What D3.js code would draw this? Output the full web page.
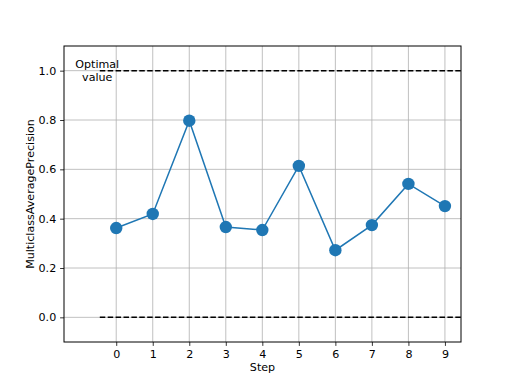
<!DOCTYPE html>
<html><head><meta charset="utf-8">
<script src="https://cdn.jsdelivr.net/npm/d3@7"></script>
<style>body{margin:0;background:#fff}svg{display:block}text{font-family:"DejaVu Sans",sans-serif}</style>
</head><body><svg id="c" width="512" height="384"></svg>
<script>
const steps = [0,1,2,3,4,5,6,7,8,9];
const values = [0.362,0.419,0.797,0.366,0.354,0.614,0.272,0.374,0.541,0.451];
const yTicks = [0.0,0.2,0.4,0.6,0.8,1.0];
const optimalValue = 1.0;
const baselineValue = 0.0;
const refLineStart = -0.45;
const refLineEnd = 9.5;
const optimalLabel = ["Optimal","value"];
const xLabel = "Step";
const yLabel = "MulticlassAveragePrecision";

const svg = d3.select("#c");
const L=64,R=461,T=46,B=342;
const x = d3.scaleLinear().domain([-1.43,9.44]).range([L,R]);
const y = d3.scaleLinear().domain([-0.1,1.1]).range([B,T]);
const fs = 11.1;

svg.append("defs").append("clipPath").attr("id","cl").append("rect")
  .attr("x",L).attr("y",T).attr("width",R-L).attr("height",B-T);

// grid
const g = svg.append("g");
g.selectAll(".gx").data(steps).enter().append("line")
  .attr("x1",d=>x(d)).attr("x2",d=>x(d)).attr("y1",T).attr("y2",B)
  .attr("stroke","#b0b0b0").attr("stroke-width",0.8);
g.selectAll(".gy").data(yTicks).enter().append("line")
  .attr("y1",d=>y(d)).attr("y2",d=>y(d)).attr("x1",L).attr("x2",R)
  .attr("stroke","#b0b0b0").attr("stroke-width",0.8);

// reference lines
const pc = svg.append("g").attr("clip-path","url(#cl)");
[optimalValue, baselineValue].forEach(v=>{
  pc.append("line").attr("x1",x(refLineStart)).attr("x2",x(refLineEnd))
    .attr("y1",y(v)).attr("y2",y(v))
    .attr("stroke","#000").attr("stroke-width",1.5).attr("stroke-dasharray","5.5,2.4");
});

// line + markers
const line = d3.line().x((d,i)=>x(steps[i])).y(d=>y(d));
pc.append("path").datum(values).attr("d",line).attr("fill","none")
  .attr("stroke","#1f77b4").attr("stroke-width",1.5);
pc.selectAll("circle").data(values).enter().append("circle")
  .attr("cx",(d,i)=>x(steps[i])).attr("cy",d=>y(d)).attr("r",6.2).attr("fill","#1f77b4");

// optimal label
const ot = svg.append("text").attr("text-anchor","middle").attr("font-size",fs)
  .attr("x",x(-0.52)).attr("y",y(optimalValue));
optimalLabel.forEach((s,i)=>{
  ot.append("tspan").attr("x",x(-0.52)).attr("y",y(optimalValue)-2.5+(i*12.5)).text(s);
});

// frame
svg.append("rect").attr("x",L).attr("y",T).attr("width",R-L).attr("height",B-T)
  .attr("fill","none").attr("stroke","#000").attr("stroke-width",1);

// axes
const xa = svg.append("g").attr("transform",`translate(0,${B})`)
  .call(d3.axisBottom(x).tickValues(steps).tickSize(3.9).tickPadding(3.9).tickFormat(d3.format("d")));
const ya = svg.append("g").attr("transform",`translate(${L},0)`)
  .call(d3.axisLeft(y).tickValues(yTicks).tickSize(3.9).tickPadding(3.9).tickFormat(d3.format(".1f")));
[xa,ya].forEach(a=>{
  a.select(".domain").remove();
  a.selectAll("text").attr("font-size",fs).attr("font-family","DejaVu Sans").attr("fill","#000");
  a.selectAll("line").attr("stroke","#000").attr("stroke-width",0.8);
});

svg.append("text").attr("x",(L+R)/2).attr("y",371).attr("text-anchor","middle")
  .attr("font-size",fs).text(xLabel);
svg.append("text").attr("transform",`translate(34,${(T+B)/2}) rotate(-90)`)
  .attr("text-anchor","middle").attr("font-size",fs).text(yLabel);
</script></body></html>
